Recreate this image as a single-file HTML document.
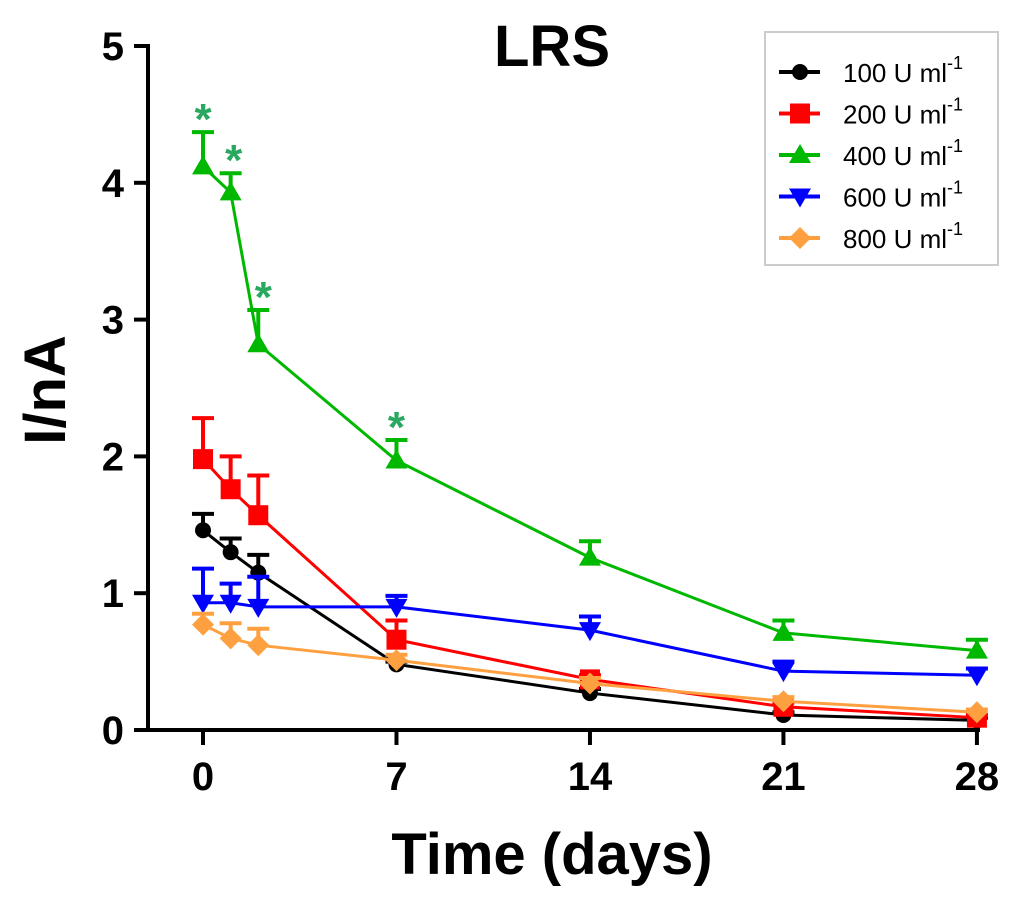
<!DOCTYPE html>
<html><head><meta charset="utf-8"><style>
html,body{margin:0;padding:0;background:#fff;}
svg{display:block;font-family:"Liberation Sans",Arial,sans-serif;}
</style></head><body>
<svg id="chart" width="1024" height="899">
<text x="552" y="66" font-size="58" font-weight="bold" text-anchor="middle">LRS</text>
<text transform="translate(65,390) rotate(-90)" font-size="58" font-weight="bold" text-anchor="middle">I/nA</text>
<text x="552" y="874" font-size="58" font-weight="bold" text-anchor="middle">Time (days)</text>
<g id="axes"></g><g id="series"></g>
<g>
<rect x="765" y="32" width="233" height="233" fill="#fff" stroke="#ccc" stroke-width="2"/>
<g id="legend"></g>
</g>
</svg>
<script>
const days=[0,1,2,7,14,21,28];
const yTicks=[0,1,2,3,4,5];
const xTicks=[0,7,14,21,28];
const seriesNames=["100 U ml","200 U ml","400 U ml","600 U ml","800 U ml"];
const s100=[1.46,1.30,1.15,0.48,0.27,0.11,0.07];
const e100=[0.12,0.10,0.13,0.02,0.03,0.02,0.02];
const s200=[1.98,1.76,1.57,0.66,0.37,0.17,0.09];
const e200=[0.30,0.24,0.29,0.14,0.03,0.03,0.02];
const s400=[4.12,3.93,2.82,1.97,1.26,0.71,0.58];
const e400=[0.25,0.14,0.25,0.15,0.12,0.09,0.08];
const s600=[0.93,0.93,0.90,0.90,0.73,0.43,0.40];
const e600=[0.25,0.14,0.22,0.08,0.10,0.07,0.05];
const s800=[0.77,0.67,0.62,0.51,0.34,0.21,0.13];
const e800=[0.08,0.11,0.12,0.04,0.04,0.03,0.02];
const sig400=[true,true,true,true,false,false,false];
const NS="http://www.w3.org/2000/svg";
const X=d=>203+d*27.64, Y=v=>730-v*136.8;
function mk(t,a,p){const e=document.createElementNS(NS,t);for(const k in a)e.setAttribute(k,a[k]);p.appendChild(e);return e;}
const ax=document.getElementById('axes');
let l=mk('line',{x1:148,y1:44,x2:148,y2:732,stroke:'#000','stroke-width':4},ax);


l=mk('line',{x1:146,y1:730,x2:980,y2:730,stroke:'#000','stroke-width':4},ax);


yTicks.forEach(v=>{mk('line',{x1:134,y1:Y(v),x2:148,y2:Y(v),stroke:'#000','stroke-width':4},ax);
const t=mk('text',{x:124,y:Y(v)+14,'font-size':40,'font-weight':'bold','text-anchor':'end'},ax);t.textContent=v;

});
xTicks.forEach(d=>{mk('line',{x1:X(d),y1:730,x2:X(d),y2:745,stroke:'#000','stroke-width':4},ax);
const t=mk('text',{x:X(d),y:790,'font-size':40,'font-weight':'bold','text-anchor':'middle'},ax);t.textContent=d;

});
const cols=['#000','#f00','#00b800','#00f','#ffa040'];
const vals=[s100,s200,s400,s600,s800], errs=[e100,e200,e400,e600,e800];
const shapes=['circle','square','tri','tridown','diamond'];
function marker(shape,x,y,c,g){
 if(shape==='circle')return mk('circle',{cx:x,cy:y,r:8,fill:c},g);
 if(shape==='square')return mk('rect',{x:x-10,y:y-10,width:20,height:20,fill:c},g);
 if(shape==='tri')return mk('polygon',{points:`${x},${y-11} ${x+11},${y+8} ${x-11},${y+8}`,fill:c},g);
 if(shape==='tridown')return mk('polygon',{points:`${x},${y+11} ${x+11},${y-8} ${x-11},${y-8}`,fill:c},g);
 return mk('polygon',{points:`${x},${y-11} ${x+11},${y} ${x},${y+11} ${x-11},${y}`,fill:c},g);
}
const sg=document.getElementById('series');
vals.forEach((s,i)=>{
 const g=mk('g',{},sg);
 
 
 const p=mk('polyline',{points:s.map((v,j)=>X(days[j])+','+Y(v)).join(' '),fill:'none',stroke:cols[i],'stroke-width':3},g);
 
 
 s.forEach((v,j)=>{
  const x=X(days[j]),top=Y(v+errs[i][j]);
  mk('line',{x1:x,y1:Y(v),x2:x,y2:top,stroke:cols[i],'stroke-width':4},g);
  mk('line',{x1:x-11,y1:top,x2:x+11,y2:top,stroke:cols[i],'stroke-width':4},g);
  const m=marker(shapes[i],x,Y(v),cols[i],g);
  
  
 });
});
s400.forEach((v,j)=>{if(!sig400[j])return;
 const t=mk('text',{x:X(days[j])+(j==1?3:j==2?5:0),y:Y(v+e400[j])+2,'font-size':44,'font-weight':'bold',fill:'#2aa860','text-anchor':'middle'},sg);
 t.textContent='*';
 
 });
const lg=document.getElementById('legend');
seriesNames.forEach((n,i)=>{const y=72+i*41.5;
 const g=mk('g',{},lg);
 
 
 mk('line',{x1:779,y1:y,x2:820,y2:y,stroke:cols[i],'stroke-width':4},g);
 marker(shapes[i],800,y,cols[i],g);
 const t=mk('text',{x:843,y:y+10,'font-size':26},g);t.textContent=n;
 const s=mk('tspan',{dy:-13,'font-size':18},t);s.textContent='-1';
});
</script>
</body></html>
